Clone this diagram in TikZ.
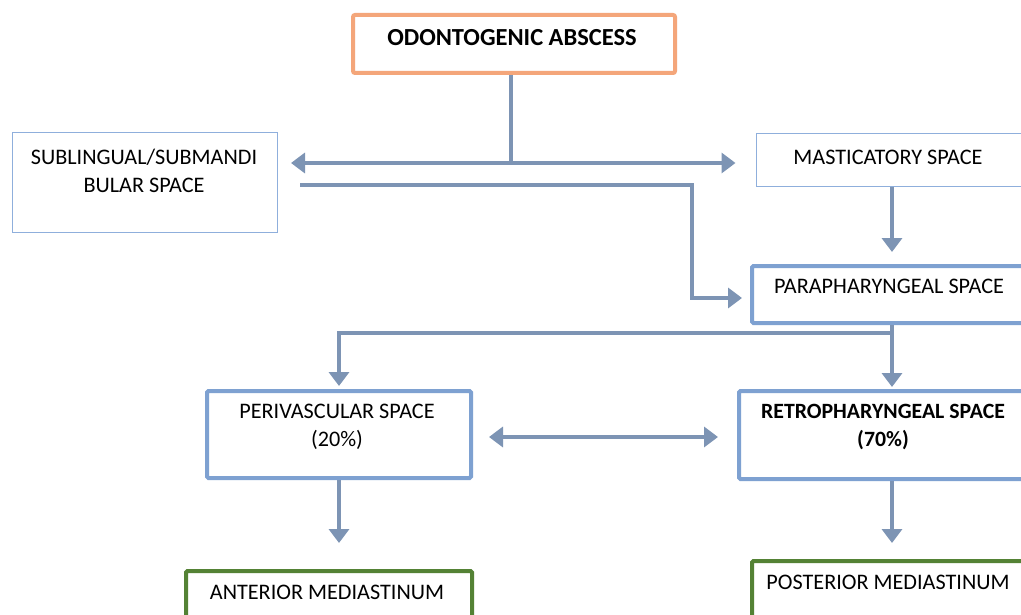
\documentclass[tikz,border=0pt]{standalone}
\usepackage{fontspec}
\setmainfont{Carlito}
\usetikzlibrary{arrows.meta}
\definecolor{linecol}{RGB}{125,148,180}
\definecolor{bluebox}{RGB}{126,161,209}
\definecolor{thinbox}{RGB}{143,175,220}
\definecolor{orangebox}{RGB}{244,166,122}
\definecolor{greenbox}{RGB}{84,130,53}
\tikzset{
  boxbase/.style={rectangle, anchor=north west, inner sep=0pt, fill=white},
  thickblue/.style={boxbase, draw=bluebox, line width=4pt, rounded corners=1.5pt},
  thinblue/.style={boxbase, draw=thinbox, line width=1pt},
  orangestyle/.style={boxbase, draw=orangebox, line width=4pt, rounded corners=2pt},
  greenstyle/.style={boxbase, draw=greenbox, line width=4pt, rounded corners=1.5pt},
  txt/.style={font=\fontsize{22.2}{28}\selectfont, align=center, inner sep=0pt},
  conn/.style={draw=linecol, line width=4.5pt},
  arr/.style={conn, -{Triangle[width=20pt,length=14pt]}},
  darr/.style={conn, {Triangle[width=20pt,length=14pt]}-{Triangle[width=20pt,length=14pt]}},
}
\begin{document}
\begin{tikzpicture}[x=1pt,y=-1pt]
\useasboundingbox (0,0) rectangle (1021,615);
\clip (0,0) rectangle (1021,615);
\fill[white] (0,0) rectangle (1021,615);

% boxes
\node[orangestyle, minimum width=322pt, minimum height=58pt] (top) at (351,13) {};
\node[thinblue, minimum width=265.5pt, minimum height=99.5pt] (sub) at (11.5,132.5) {};
\node[thinblue, minimum width=273pt, minimum height=53pt] (mast) at (755.5,133) {};
\node[thickblue, minimum width=284pt, minimum height=57pt] (para) at (750,264) {};
\node[thickblue, minimum width=264pt, minimum height=87pt] (peri) at (205,389) {};
\node[thickblue, minimum width=310pt, minimum height=88pt] (retro) at (737,389) {};
\node[greenstyle, minimum width=286pt, minimum height=80pt] (ant) at (184,569) {};
\node[greenstyle, minimum width=290pt, minimum height=90pt] (post) at (750,559) {};

% texts
\node[txt, font=\fontsize{24.5}{28}\selectfont\bfseries] (ttop) at (512,38) {ODONTOGENIC ABSCESS};
\node[txt] (tsub) at (144,171) {SUBLINGUAL/SUBMANDI\\BULAR SPACE};
\node[txt] (tmast) at (888,157) {MASTICATORY SPACE};
\node[txt] (tpara) at (889,286) {PARAPHARYNGEAL SPACE};
\node[txt] (tperi) at (337,427) {PERIVASCULAR SPACE\\(20\%)};
\node[txt, font=\fontsize{21.8}{28}\selectfont\bfseries] (tretro) at (883,427) {RETROPHARYNGEAL SPACE\\(70\%)};
\node[txt] (tant) at (327,592) {ANTERIOR MEDIASTINUM};
\node[txt] (tpost) at (888,582) {POSTERIOR MEDIASTINUM};

% helper coordinates
\coordinate (cx) at (892,0);
\coordinate (j1) at (511,163);
\coordinate (r1) at (300,185);
\coordinate (k) at (692,298);
\coordinate (j2) at (892,333);
\coordinate (h) at (0,437);

% connectors
\draw[conn] (top.south -| j1) -- (j1);
\draw[darr] ([xshift=13pt]sub.east |- j1) -- ([xshift=-20pt]mast.west |- j1);
\draw[arr] (r1) -| (k) -- ([xshift=-8pt]para.west |- k);
\draw[arr] (cx |- mast.south) -- ([yshift=12pt]cx |- para.north);
\draw[conn] (cx |- para.south) -- (j2);
\draw[arr] (j2) -| ([yshift=3pt]peri.north);
\draw[arr] (j2) -- ([yshift=2pt]cx |- retro.north);
\draw[darr] ([xshift=16pt]peri.east |- h) -- ([xshift=-19pt]retro.west |- h);
\draw[arr] (peri.south) -- ([yshift=26pt]ant.north -| peri.south);
\draw[arr] (cx |- retro.south) -- ([yshift=16pt]cx |- post.north);
\end{tikzpicture}
\end{document}
